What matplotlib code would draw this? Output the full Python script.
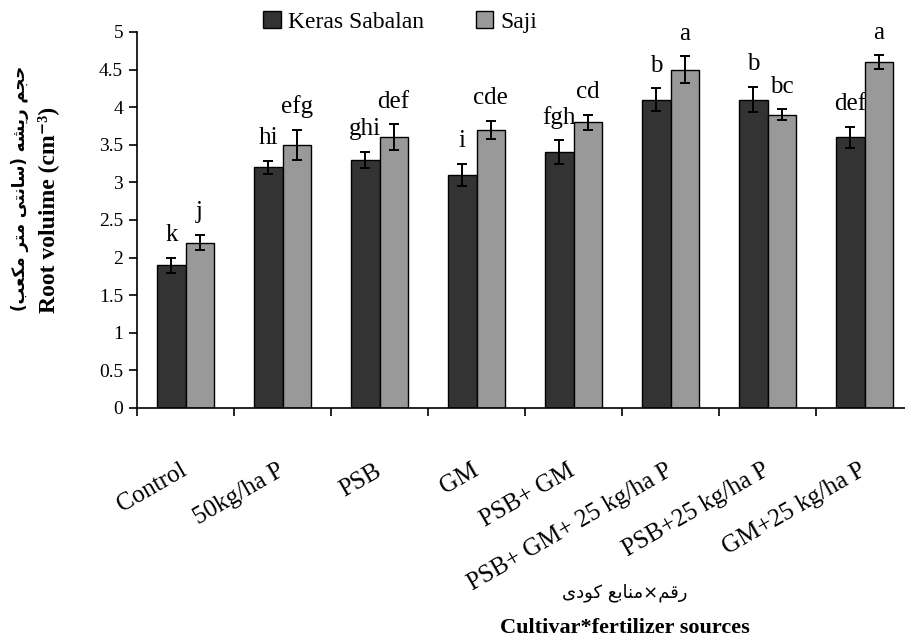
import numpy as np
import matplotlib
matplotlib.use("Agg")
import matplotlib.pyplot as plt
from matplotlib.patches import Patch

# data
treatments = ["Control", "50kg/ha P", "PSB", "GM", "PSB+ GM",
              "PSB+ GM+ 25 kg/ha P", "PSB+25 kg/ha P", "GM+25 kg/ha P"]
keras = [1.9, 3.2, 3.3, 3.1, 3.4, 4.1, 4.1, 3.6]
keras_err = [0.1, 0.09, 0.11, 0.15, 0.16, 0.15, 0.17, 0.14]
keras_letters = ["k", "hi", "ghi", "i", "fgh", "b", "b", "def"]
saji = [2.2, 3.5, 3.6, 3.7, 3.8, 4.5, 3.9, 4.6]
saji_err = [0.1, 0.2, 0.17, 0.12, 0.1, 0.18, 0.07, 0.09]
saji_letters = ["j", "efg", "def", "cde", "cd", "a", "bc", "a"]

ylabel_fa = "حجم ریشه (سانتی متر مکعب)"
xlabel_fa = "رقم×منابع کودی"

# --- minimal persian shaping (matplotlib has no bidi / joining) ---
FORMS = {
    'ا': ('\uFE8D', '\uFE8E'), 'د': ('\uFEA9', '\uFEAA'), 'ر': ('\uFEAD', '\uFEAE'),
    'و': ('\uFEED', '\uFEEE'),
    'ب': ('\uFE8F', '\uFE90', '\uFE91', '\uFE92'), 'ت': ('\uFE95', '\uFE96', '\uFE97', '\uFE98'),
    'ج': ('\uFE9D', '\uFE9E', '\uFE9F', '\uFEA0'), 'ح': ('\uFEA1', '\uFEA2', '\uFEA3', '\uFEA4'),
    'س': ('\uFEB1', '\uFEB2', '\uFEB3', '\uFEB4'), 'ش': ('\uFEB5', '\uFEB6', '\uFEB7', '\uFEB8'),
    'ع': ('\uFEC9', '\uFECA', '\uFECB', '\uFECC'), 'ق': ('\uFED5', '\uFED6', '\uFED7', '\uFED8'),
    'م': ('\uFEE1', '\uFEE2', '\uFEE3', '\uFEE4'), 'ن': ('\uFEE5', '\uFEE6', '\uFEE7', '\uFEE8'),
    'ه': ('\uFEE9', '\uFEEA', '\uFEEB', '\uFEEC'), 'ی': ('\uFBFC', '\uFBFD', '\uFBFE', '\uFBFF'),
    'ک': ('\uFB8E', '\uFB8F', '\uFB90', '\uFB91'),
}


def shape_fa(s):
    out = []
    for i, c in enumerate(s):
        if c not in FORMS:
            out.append(c)
            continue
        f = FORMS[c]
        prev = s[i - 1] if i > 0 else ''
        nxt = s[i + 1] if i + 1 < len(s) else ''
        jp = prev in FORMS and len(FORMS[prev]) == 4
        jn = nxt in FORMS and len(f) == 4
        if jp and jn:
            out.append(f[3])
        elif jp:
            out.append(f[1])
        elif jn:
            out.append(f[2])
        else:
            out.append(f[0])
    vis = ''.join(out)[::-1]
    return vis.translate(str.maketrans('()', ')('))


plt.rcParams['font.family'] = ['Liberation Serif', 'DejaVu Sans']

fig = plt.figure(figsize=(9.05, 6.41), dpi=100)
ax = fig.add_axes([137 / 905, 1 - 408 / 641, 776 / 905, 376 / 641])

x = np.arange(len(treatments))
w = 0.29
dark, light = "#333333", "#999999"
ekw = dict(elinewidth=1.4, capthick=1.4, capsize=3.5, ecolor="black")
ax.bar(x - w / 2, keras, w, color=dark, edgecolor="black", linewidth=1,
       yerr=keras_err, error_kw=ekw)
ax.bar(x + w / 2, saji, w, color=light, edgecolor="black", linewidth=1,
       yerr=saji_err, error_kw=ekw)

for xi, v, e, t in zip(x - w / 2, keras, keras_err, keras_letters):
    ax.text(xi, v + e + 0.22, t, ha="center", va="baseline", fontsize=18)
for xi, v, e, t in zip(x + w / 2, saji, saji_err, saji_letters):
    ax.text(xi, v + e + 0.22, t, ha="center", va="baseline", fontsize=18)

ax.set_xlim(-0.5, len(treatments) - 0.5)
ax.set_ylim(0, 5)
ax.set_yticks(np.arange(0, 5.01, 0.5))
ax.set_yticklabels(["0", "0.5", "1", "1.5", "2", "2.5", "3", "3.5", "4", "4.5", "5"])
ax.tick_params(axis="y", direction="out", length=6, width=1.2, labelsize=14, pad=4)

ax.set_xticks(x)
ax.set_xticklabels(treatments, rotation=30, ha="right", va="center",
                   rotation_mode="anchor", fontsize=18)
ax.tick_params(axis="x", which="major", length=0, pad=44)
ax.set_xticks(np.arange(-0.5, len(treatments), 1), minor=True)
ax.tick_params(axis="x", which="minor", direction="out", length=6, width=1.2)

for s in ["top", "right"]:
    ax.spines[s].set_visible(False)
for s in ["left", "bottom"]:
    ax.spines[s].set_linewidth(1.2)

fig.text(48 / 905, 1 - 210 / 641, "Root voluime (cm\u207b\u00b3)", rotation=90,
         ha="center", va="center", fontsize=17, fontweight="bold")
fig.text(20 / 905, 1 - 188 / 641, shape_fa(ylabel_fa), rotation=90,
         ha="center", va="center", fontsize=12, fontweight="bold",
         family=["DejaVu Sans"])
fig.text(625 / 905, 1 - 593 / 641, shape_fa(xlabel_fa), ha="center", va="center",
         fontsize=13, family=["DejaVu Sans"])
fig.text(625 / 905, 1 - 628 / 641, "Cultivar*fertilizer sources", ha="center",
         va="center", fontsize=16, fontweight="bold")

handles = [Patch(facecolor=dark, edgecolor="black"),
           Patch(facecolor=light, edgecolor="black")]
fig.legend(handles, ["Keras Sabalan", "Saji"], loc="center", ncol=2,
           bbox_to_anchor=(400 / 905, 1 - 22 / 641), frameon=False, fontsize=17,
           handlelength=0.75, handleheight=0.75, handletextpad=0.3,
           columnspacing=2.2)

fig.savefig("out.png", dpi=100)
